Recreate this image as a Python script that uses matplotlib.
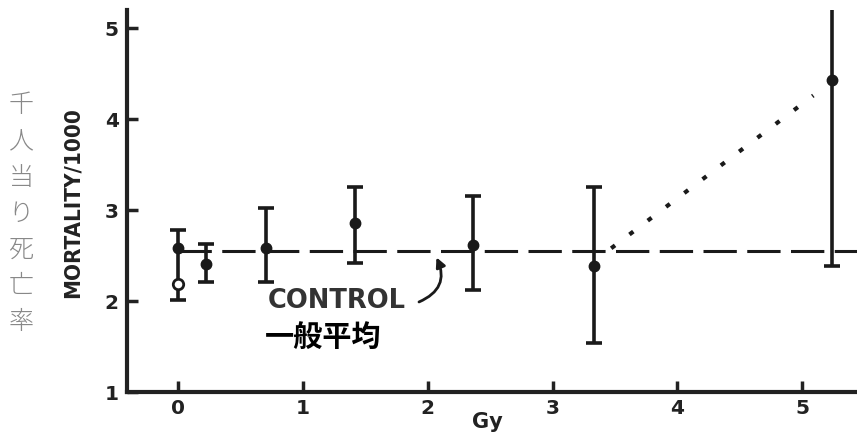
import matplotlib
matplotlib.use("Agg")
import matplotlib.pyplot as plt

# ---- data ----
dose = [0.0, 0.22, 0.70, 1.42, 2.36, 3.33, 5.24]
mortality = [2.58, 2.41, 2.58, 2.86, 2.62, 2.39, 4.43]
err_low = [2.01, 2.21, 2.21, 2.42, 2.12, 1.54, 2.39]
err_high = [2.78, 2.63, 3.02, 3.25, 3.16, 3.25, 5.25]
open_dose = [0.0]
open_mortality = [2.19]
control_level = 2.55
trend_x = [3.47, 5.09]
trend_y = [2.58, 4.26]
x_ticks = [0, 1, 2, 3, 4, 5]
y_ticks = [1, 2, 3, 4, 5]
jp_ylabel = "千人当り死亡率"

plt.rcParams['lines.scale_dashes'] = False

W, H = 857, 434
fig = plt.figure(figsize=(W / 100, H / 100), dpi=100)
ax = fig.add_axes([127 / W, (H - 392) / H, (W - 127) / W, 382 / H])
ax.set_xlim(-0.41, 5.44)
ax.set_ylim(1.0, 5.20)

ink = "#1a1a1a"

# control dashed line
ax.plot([dose[0], 5.44], [control_level, control_level], color=ink, lw=2.2,
        dashes=(24, 7.5), zorder=2, clip_on=True)

# dotted trend
ax.plot(trend_x, trend_y, color=ink, lw=3, dashes=(3.5, 13), zorder=2)

# error bars
yerr = [[m - l for m, l in zip(mortality, err_low)],
        [h - m for m, h in zip(mortality, err_high)]]
ax.errorbar(dose, mortality, yerr=yerr, fmt='o', color=ink, ms=7.5, lw=2.6,
            capsize=6, capthick=2.6, zorder=3)
ax.plot(open_dose, open_mortality, 'o', mfc='white', mec=ink, mew=2, ms=7.5, zorder=4)

# spines / ticks
for s in ['top', 'right']:
    ax.spines[s].set_visible(False)
for s in ['left', 'bottom']:
    ax.spines[s].set_linewidth(3)
    ax.spines[s].set_color("#222222")
ax.set_xticks(x_ticks)
ax.set_yticks(y_ticks)
ax.tick_params(direction='in', length=8, width=2.5, color="#222222")
ax.tick_params(axis='x', pad=5)
ax.tick_params(axis='y', pad=6)
for lab in ax.get_xticklabels() + ax.get_yticklabels():
    lab.set_fontfamily('DejaVu Sans')
    lab.set_fontweight('bold')
    lab.set_fontsize(14.5)
    lab.set_color("#222222")

ax.set_xlabel("Gy", fontfamily='DejaVu Sans', fontweight='bold', fontsize=15, color="#222222")
ax.xaxis.set_label_coords((487 - 127) / 730, (392 - 412) / 382)
ax.set_ylabel("MORTALITY/1000", fontfamily='DejaVu Sans', fontstretch='condensed',
              fontweight='bold', fontsize=16, color="#222222")
ax.yaxis.set_label_coords((83 - 127) / 730, (392 - 203) / 382)

# annotations
ax.text(1.27, 2.0, "CONTROL", ha='center', va='center', fontfamily='DejaVu Sans',
        fontweight='bold', fontsize=18.5, color="#333333")
ax.text(1.16, 1.60, "一般平均", ha='center', va='center',
        fontfamily=['Noto Sans CJK JP', 'DejaVu Sans'], fontweight='bold',
        fontsize=21, color="black")
ax.annotate("", xy=(2.07, 2.48), xytext=(1.93, 1.99),
            arrowprops=dict(arrowstyle='-|>', color=ink, lw=2,
                            connectionstyle='arc3,rad=0.5', mutation_scale=14,
                            shrinkA=0, shrinkB=0))

# Japanese vertical label
for i, ch in enumerate(jp_ylabel):
    y = 105 + i * 36.2
    fig.text(21 / W, 1 - y / H, ch, ha='center', va='center',
             fontfamily=['Noto Sans CJK JP', 'DejaVu Sans'], fontweight='light',
             fontsize=18, color="#888888")

fig.savefig("out.png", dpi=100)
